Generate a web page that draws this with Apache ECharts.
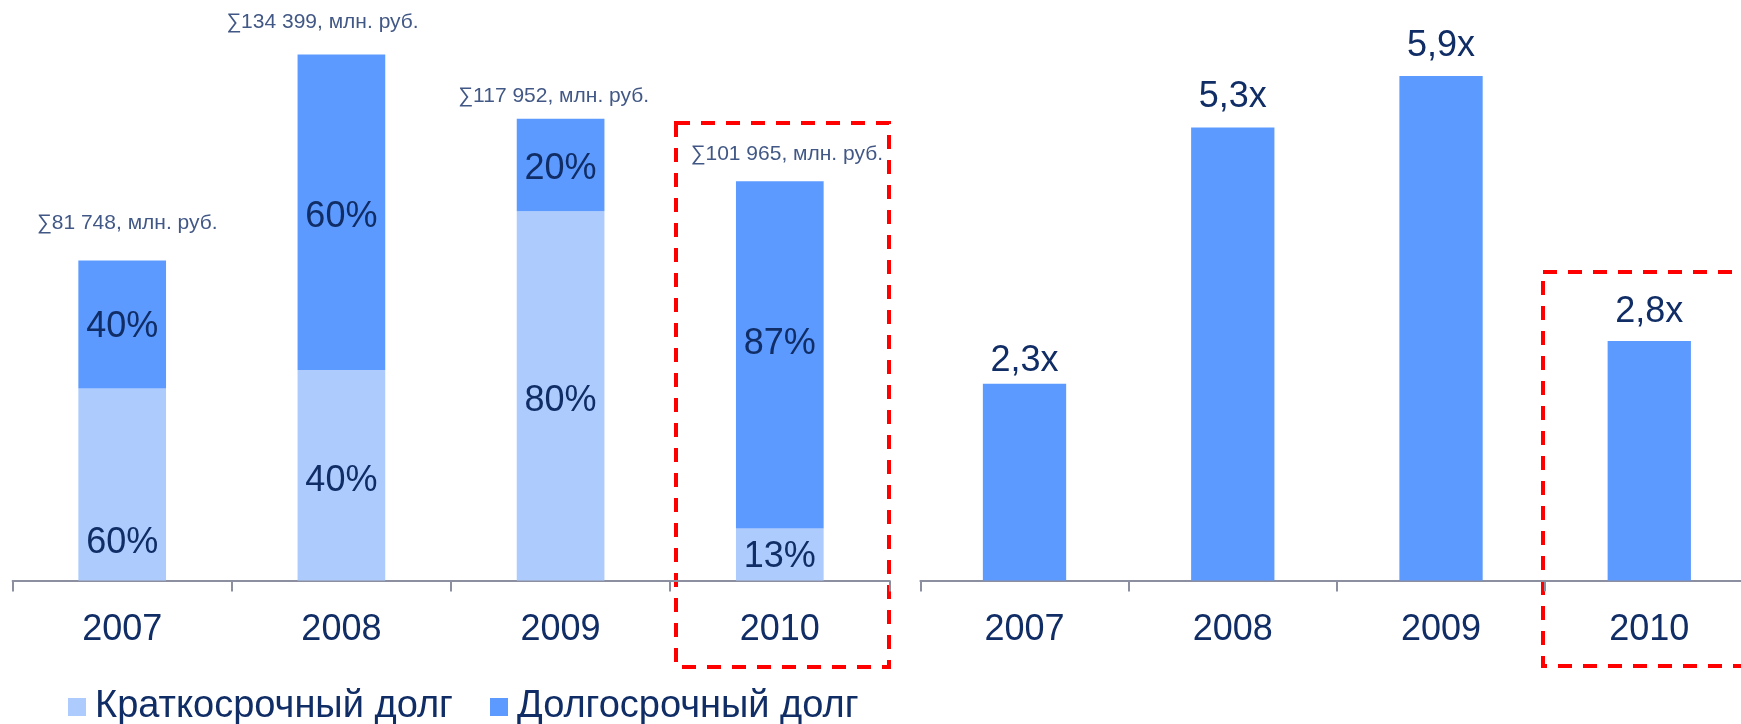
<!DOCTYPE html>
<html>
<head>
<meta charset="utf-8">
<script src="https://cdn.jsdelivr.net/npm/echarts@6/dist/echarts.min.js"></script>
<style>
html,body{margin:0;padding:0;background:#fff;overflow:hidden;}
/* правая диаграмма на исходнике обрезана справа, поэтому холст шире окна */
#main{width:1760px;height:724px;}
</style>
</head>
<body>
<div id="main"></div>
<script>
// годы (категории)
var years = ['2007', '2008', '2009', '2010'];
// структура долга, млн. руб.
var shortDebt = [49049, 53760, 94362, 13255];   // краткосрочный
var longDebt = [32699, 80639, 23590, 88710];    // долгосрочный
var totalDebt = [81748, 134399, 117952, 101965];
// правая диаграмма, кратность
var ratio = [2.3, 5.3, 5.9, 2.8];
var legendNames = ['Краткосрочный долг', 'Долгосрочный долг'];

var textColor = '#112d66';
var font = '"Liberation Sans", Arial, sans-serif';
var colorShort = '#adcbfd';
var colorLong = '#5c9aff';
var axisColor = '#8b8fa0';

// подписи: сдвиги отдельных подписей как на исходнике
var shortShift = [[0, 59], [0, 6], [0, 5], [0, 3]];
var longShift = [[0, 3], [0, 5], [0, 4], [0, -11]];
var sumShift = [[5, -26], [-19, -21], [-7, -12], [7, -16]];
var ratioShift = [[0, 7], [0, 0], [0, 0], [0, 1]];

function pct(v, i) {
    return Math.round(v / totalDebt[i] * 100) + '%';
}
function fmtSum(v) {
    return '\u2211' + String(v).replace(/\B(?=(\d{3})+(?!\d))/g, ' ') + ', млн. руб.';
}

function xAxisCfg(idx) {
    return {
        type: 'category',
        gridIndex: idx,
        data: years,
        boundaryGap: true,
        axisLine: {lineStyle: {color: axisColor, width: 2}},
        axisTick: {show: true, length: 11, lineStyle: {color: axisColor, width: 2}},
        axisLabel: {fontSize: 36, color: textColor, fontFamily: font, margin: 32},
        splitLine: {show: false}
    };
}

var myChart = echarts.init(document.getElementById('main'));
var option = {
    animation: false,
    backgroundColor: '#fff',
    textStyle: {fontFamily: font},
    legend: {
        data: legendNames,
        left: 63,
        top: 683,
        icon: 'rect',
        itemWidth: 18,
        itemHeight: 18,
        itemGap: 37,
        textStyle: {fontSize: 38, color: textColor, fontFamily: font, padding: [0, 0, 0, 4]}
    },
    grid: [
        {left: 12.6, width: 876.8, top: 0, height: 580.5},
        {left: 920.4, width: 833, top: 0, height: 580.5}
    ],
    xAxis: [xAxisCfg(0), xAxisCfg(1)],
    yAxis: [
        {type: 'value', gridIndex: 0, min: 0, max: 148300, show: false},
        {type: 'value', gridIndex: 1, min: 0, max: 6.79, show: false}
    ],
    series: [
        {
            name: legendNames[0],
            type: 'bar',
            stack: 'debt',
            xAxisIndex: 0,
            yAxisIndex: 0,
            barWidth: '40%',
            itemStyle: {color: colorShort},
            data: shortDebt.map(function (v, i) {
                return {value: v, label: {offset: shortShift[i]}};
            }),
            label: {
                show: true,
                position: 'inside',
                fontSize: 36,
                color: textColor,
                fontFamily: font,
                formatter: function (p) { return pct(p.value, p.dataIndex); }
            }
        },
        {
            name: legendNames[1],
            type: 'bar',
            stack: 'debt',
            xAxisIndex: 0,
            yAxisIndex: 0,
            barWidth: '40%',
            itemStyle: {color: colorLong},
            data: longDebt.map(function (v, i) {
                return {value: v, label: {offset: longShift[i]}};
            }),
            label: {
                show: true,
                position: 'inside',
                fontSize: 36,
                color: textColor,
                fontFamily: font,
                formatter: function (p) { return pct(p.value, p.dataIndex); }
            }
        },
        {
            // суммы над столбцами
            type: 'scatter',
            xAxisIndex: 0,
            yAxisIndex: 0,
            symbolSize: 1,
            silent: true,
            itemStyle: {color: 'rgba(0,0,0,0)'},
            data: totalDebt.map(function (v, i) {
                return {value: v, label: {offset: sumShift[i]}};
            }),
            label: {
                show: true,
                position: 'top',
                distance: 0,
                fontSize: 21,
                color: textColor,
                fontFamily: font,
                formatter: function (p) { return fmtSum(p.value); }
            }
        },
        {
            type: 'bar',
            xAxisIndex: 1,
            yAxisIndex: 1,
            barWidth: '40%',
            itemStyle: {color: colorLong},
            data: ratio.map(function (v, i) {
                return {value: v, label: {offset: ratioShift[i]}};
            }),
            label: {
                show: true,
                position: 'top',
                distance: 12,
                fontSize: 36,
                color: textColor,
                fontFamily: font,
                formatter: function (p) { return String(p.value).replace('.', ',') + 'x'; }
            }
        }
    ],
    // красные пунктирные рамки вокруг 2010
    graphic: [
        {
            type: 'rect',
            shape: {x: 676, y: 123, width: 213, height: 544},
            style: {fill: null, stroke: '#ff0000', lineWidth: 4, lineDash: [14, 11]},
            silent: true
        },
        {
            type: 'rect',
            shape: {x: 1543, y: 272, width: 230, height: 394},
            style: {fill: null, stroke: '#ff0000', lineWidth: 4, lineDash: [14, 11]},
            silent: true
        }
    ]
};
myChart.setOption(option);
</script>
</body>
</html>
